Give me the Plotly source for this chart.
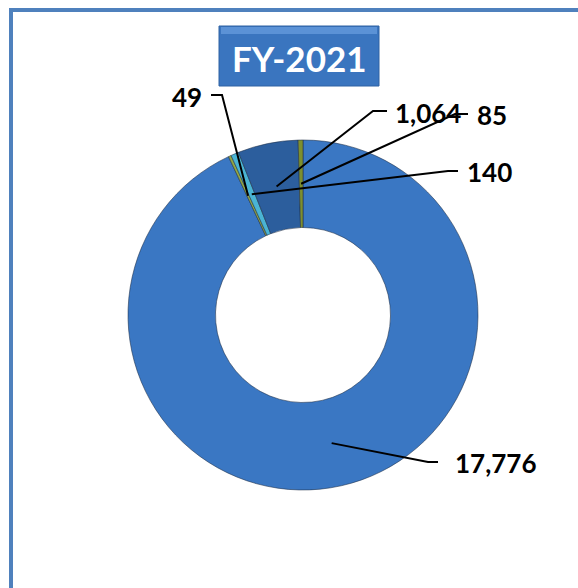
import math

import plotly.graph_objects as go

W, H = 578, 588

# data, in drawing order (clockwise from 12 o'clock)
values = [17776, 49, 140, 1064, 85]
labels = ["17,776", "49", "140", "1,064", "85"]
colors = ["#3a77c3", "#93a844", "#4ab4d4", "#2c5e9d", "#7d8f2f"]

# where each label sits (px) and where its leader bends (px)
label_pos = {
    "17,776": (495, 463),
    "49": (187, 97),
    "140": (489, 172),
    "1,064": (428, 113),
    "85": (492, 115),
}
label_bend = {
    "17,776": [(438, 462), (428, 462)],
    "49": [(211, 95), (222, 95)],
    "140": [(458, 171), (448, 171)],
    "1,064": [(387, 111), (373, 111)],
    "85": [(468, 114), (455, 114)],
}

# donut geometry in px
cx, cy, R, hole = 303, 315, 175, 0.5


def paper(x, y):
    return x / W, 1 - y / H


fig = go.Figure()

fig.add_trace(
    go.Pie(
        values=values,
        labels=labels,
        sort=False,
        direction="clockwise",
        rotation=0,
        hole=hole,
        marker={"colors": colors, "line": {"color": "rgba(30,45,70,0.55)", "width": 1}},
        textinfo="none",
        hoverinfo="label+value",
        showlegend=False,
        domain={"x": [(cx - R) / W, (cx + R) / W], "y": [1 - (cy + R) / H, 1 - (cy - R) / H]},
    )
)

shapes = []
annotations = []

# leader lines: from the label bend to mid-ring of each slice
total = sum(values)
start = 0.0
r_mid = R * (1 + hole) / 2
for val, lab in zip(values, labels):
    mid = (start + val / 2) / total * 2 * math.pi
    start += val
    tx = cx + r_mid * math.sin(mid)
    ty = cy - r_mid * math.cos(mid)
    pts = label_bend[lab] + [(tx, ty)]
    path = "M " + " L ".join("{:.4f},{:.4f}".format(*paper(x, y)) for x, y in pts)
    shapes.append(
        {"type": "path", "path": path, "xref": "paper", "yref": "paper",
         "line": {"color": "black", "width": 2}}
    )
    lx, ly = paper(*label_pos[lab])
    annotations.append(
        {"x": lx, "y": ly, "xref": "paper", "yref": "paper", "text": "<b>" + lab + "</b>",
         "xanchor": "center", "yanchor": "middle",
         "showarrow": False, "font": {"family": "Lato", "size": 26, "color": "black"}}
    )

# outer frame
x0, y0 = paper(11, 10)
shapes.append(
    {"type": "rect", "xref": "paper", "yref": "paper", "x0": x0, "y0": -0.05, "x1": 1.05, "y1": y0,
     "line": {"color": "#4f81bd", "width": 4}, "fillcolor": "rgba(0,0,0,0)"}
)

# title box
bx0, by0 = paper(219, 86)
bx1, by1 = paper(379, 26)
shapes.append(
    {"type": "rect", "xref": "paper", "yref": "paper", "x0": bx0, "y0": by0, "x1": bx1, "y1": by1,
     "line": {"color": "#2f62a3", "width": 1}, "fillcolor": "#3a75bf"}
)
hx0, hy0 = paper(221, 34)
hx1, hy1 = paper(377, 27)
shapes.append(
    {"type": "rect", "xref": "paper", "yref": "paper", "x0": hx0, "y0": hy0, "x1": hx1, "y1": hy1,
     "line": {"width": 0}, "fillcolor": "#5b92d6"}
)
tx, ty = paper(299, 58)
annotations.append(
    {"x": tx, "y": ty, "xref": "paper", "yref": "paper", "text": "<b>FY-2021</b>",
     "xanchor": "center", "yanchor": "middle",
     "showarrow": False, "font": {"family": "Lato", "size": 35, "color": "white"}}
)

fig.update_layout(
    width=W,
    height=H,
    margin={"l": 0, "r": 0, "t": 0, "b": 0},
    paper_bgcolor="white",
    plot_bgcolor="white",
    shapes=shapes,
    annotations=annotations,
)

fig.write_html(
    "out.html",
    config={"displayModeBar": False},
    post_script="document.body.style.margin = '0';",
)
